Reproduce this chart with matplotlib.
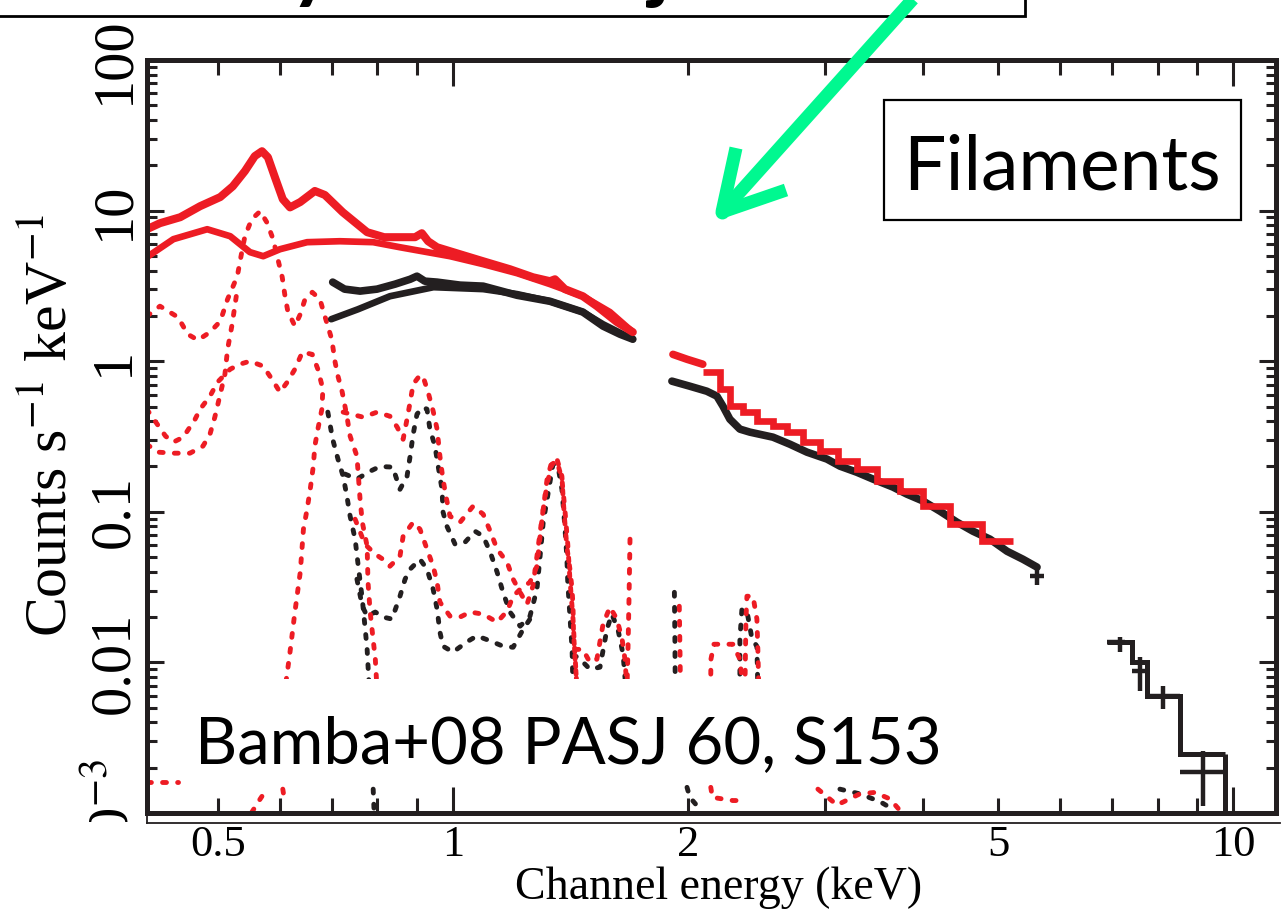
import matplotlib
matplotlib.use("Agg")
import matplotlib.pyplot as plt
from matplotlib.ticker import FixedLocator, FuncFormatter
from matplotlib.lines import Line2D
from matplotlib.patches import Rectangle
from matplotlib.transforms import Bbox

plt.rcParams['mathtext.fontset'] = 'stix'
plt.rcParams['font.family'] = ['Liberation Serif', 'DejaVu Serif']

RED = '#ED1C24'
BLK = '#231F20'
GREEN = '#00F890'

# ---------------- data (keV, counts s^-1 keV^-1) ----------------
# soft band (BI = red, FI = black)
red_soft_e = [0.405, 0.421, 0.447, 0.474, 0.503, 0.522, 0.541, 0.557, 0.569, 0.579, 0.591, 0.605,
              0.618, 0.637, 0.665, 0.685, 0.722, 0.776, 0.816, 0.855, 0.894, 0.912, 0.929, 0.954,
              1.021, 1.093, 1.183, 1.266, 1.331, 1.351, 1.391, 1.467, 1.529, 1.622, 1.700]
red_soft_c = [7.52, 8.25, 9.04, 10.7, 12.3, 14.5, 18.3, 23.0, 24.8, 22.6, 16.7, 11.9,
              10.5, 11.4, 13.5, 12.7, 9.76, 7.19, 6.66, 6.66, 6.66, 7.08, 6.26, 5.71,
              5.13, 4.61, 4.08, 3.61, 3.40, 3.50, 3.01, 2.70, 2.32, 1.82, 1.56]
red_model_e = [0.405, 0.438, 0.484, 0.518, 0.549, 0.571, 0.600, 0.650, 0.716, 0.790, 0.855,
               0.991, 1.093, 1.208, 1.331, 1.467, 1.589, 1.700]
red_model_c = [4.91, 6.46, 7.52, 6.76, 5.30, 4.98, 5.54, 6.17, 6.26, 6.17, 5.71,
               4.98, 4.41, 3.84, 3.25, 2.70, 2.12, 1.56]
black_soft_e = [0.701, 0.726, 0.760, 0.799, 0.843, 0.881, 0.899, 0.920, 0.954, 1.021, 1.093,
                1.208, 1.331, 1.467, 1.557, 1.637, 1.700]
black_soft_c = [3.35, 3.01, 2.92, 3.01, 3.25, 3.50, 3.67, 3.40, 3.35, 3.20, 3.15,
                2.74, 2.50, 2.12, 1.71, 1.51, 1.40]
black_model_e = [0.698, 0.755, 0.830, 0.944, 1.093, 1.208, 1.331, 1.467, 1.557, 1.700]
black_model_c = [1.90, 2.21, 2.70, 3.10, 3.01, 2.79, 2.50, 2.12, 1.76, 1.40]

# hard band
red_hard_e = [1.914, 1.995, 2.090]
red_hard_c = [1.11, 1.03, 0.955]
red_step_edges = [2.090, 2.198, 2.264, 2.353, 2.452, 2.571, 2.679, 2.809, 2.953, 3.115, 3.294,
                  3.495, 3.740, 4.003, 4.335, 4.765, 5.222]
red_step_c = [0.845, 0.652, 0.503, 0.459, 0.400, 0.370, 0.338, 0.290, 0.253, 0.217, 0.192,
              0.160, 0.137, 0.109, 0.0827, 0.0638]
black_hard_e = [1.908, 2.012, 2.115, 2.179, 2.218, 2.264, 2.332, 2.402, 2.571, 2.703, 2.842,
                3.015, 3.133, 3.294, 3.453, 3.663, 3.818, 4.003, 4.209, 4.426, 4.640, 4.879,
                5.131, 5.378, 5.606]
black_hard_c = [0.737, 0.682, 0.632, 0.586, 0.503, 0.412, 0.354, 0.338, 0.313, 0.281, 0.249,
                0.224, 0.201, 0.183, 0.165, 0.146, 0.131, 0.118, 0.101, 0.0853, 0.0743, 0.0658,
                0.0547, 0.0484, 0.0429]
black_end_e = [5.606]
black_end_c = [0.0374]
black_end_ex = [0.12]
black_end_cx = [0.0045]

# very hard band (black only): model steps and binned data crosses
vh_edges = [6.895, 7.42, 7.76, 8.55, 9.77]
vh_model = [0.0136, 0.0100, 0.00597, 0.00246]
vh_e = [7.165, 7.60, 8.13, 9.15]
vh_elo = [6.895, 7.42, 7.76, 8.55]
vh_ehi = [7.27, 7.76, 8.55, 9.77]
vh_c = [0.0136, 0.00874, 0.00597, 0.00187]
vh_clo = [0.0117, 0.00644, 0.00489, 0.00111]
vh_chi = [0.0147, 0.01083, 0.00695, 0.00257]

# model components (dotted)
r1_e = [0.405, 0.421, 0.444, 0.457, 0.471, 0.488, 0.503, 0.514, 0.529, 0.536, 0.541, 0.552, 0.566,
        0.577, 0.588, 0.595, 0.604, 0.609, 0.614, 0.627, 0.637, 0.646, 0.660, 0.675, 0.685, 0.699,
        0.706, 0.712, 0.721, 0.731, 0.738, 0.753, 0.760, 0.765, 0.776, 0.778, 0.783, 0.788, 0.795,
        0.799]
r1_c = [1.99, 2.32, 1.96, 1.51, 1.38, 1.56, 1.84, 2.58, 3.67, 5.30, 6.76, 8.77, 9.9,
        8.38, 6.46, 4.98, 3.61, 2.70, 2.15, 1.71, 2.05, 2.58, 2.87, 2.58, 1.99, 1.40,
        0.985, 0.795, 0.623, 0.431, 0.318, 0.234, 0.121, 0.0853, 0.0591, 0.0341, 0.0216, 0.0159,
        0.0105, 0.00664]
r2_e = [0.405, 0.428, 0.438, 0.451, 0.467, 0.474, 0.488, 0.499, 0.518, 0.533, 0.549, 0.571, 0.586,
        0.600, 0.613, 0.627, 0.641, 0.660, 0.671, 0.681, 0.679, 0.671, 0.665, 0.662, 0.656, 0.650,
        0.643, 0.637, 0.627, 0.618, 0.609]
r2_c = [0.480, 0.318, 0.290, 0.313, 0.412, 0.480, 0.586, 0.726, 0.885, 0.955, 1.0, 0.927, 0.759,
        0.623, 0.726, 0.885, 1.15, 1.11, 0.885, 0.652, 0.480, 0.354, 0.273, 0.201, 0.141, 0.104,
        0.0766, 0.0397, 0.0216, 0.0117, 0.00664]
r3_e = [0.405, 0.418, 0.438, 0.460, 0.478, 0.488, 0.495, 0.503, 0.510, 0.514, 0.521, 0.529]
r3_c = [0.281, 0.249, 0.245, 0.245, 0.273, 0.328, 0.425, 0.604, 0.820, 1.20, 1.76, 3.01]
r4_e = [0.723, 0.767, 0.799, 0.830, 0.848, 0.863, 0.873, 0.881, 0.889, 0.907, 0.915, 0.929, 0.943,
        0.954, 0.962, 0.968, 0.977, 0.991, 1.021, 1.061, 1.093, 1.116, 1.139, 1.173, 1.194, 1.219,
        1.244, 1.266, 1.281, 1.293, 1.305, 1.320, 1.339, 1.359, 1.379, 1.385, 1.391, 1.399, 1.412,
        1.421, 1.425, 1.427, 1.433, 1.442]
r4_c = [0.459, 0.425, 0.459, 0.431, 0.365, 0.303, 0.412, 0.534, 0.704, 0.807, 0.795, 0.623, 0.466,
        0.354, 0.234, 0.183, 0.135, 0.0935, 0.0853, 0.109, 0.0964, 0.0743, 0.0565, 0.0463, 0.0357,
        0.0292, 0.0243, 0.0321, 0.0507, 0.0732, 0.104, 0.165, 0.217, 0.224, 0.172, 0.116, 0.0853,
        0.0591, 0.0416, 0.0306, 0.0233, 0.0159, 0.0110, 0.00664]
r5_e = [0.749, 0.771, 0.795, 0.813, 0.830, 0.855, 0.863, 0.889, 0.907, 0.926, 0.943, 0.954, 0.962,
        0.991, 1.021, 1.052, 1.093, 1.139, 1.173, 1.194, 1.219, 1.255, 1.281, 1.293, 1.305, 1.320,
        1.339, 1.359, 1.379, 1.391, 1.403, 1.412, 1.425, 1.433, 1.442]
r5_c = [0.0893, 0.0609, 0.0523, 0.0484, 0.0435, 0.0507, 0.0689, 0.0853, 0.0766, 0.0565, 0.0435,
        0.0341, 0.0251, 0.0203, 0.0200, 0.0216, 0.0209, 0.0185, 0.0219, 0.0275, 0.0306, 0.0341,
        0.0435, 0.0689, 0.104, 0.153, 0.207, 0.217, 0.165, 0.104, 0.0609, 0.0357, 0.0194, 0.0113,
        0.00664]
r8_e = [1.686, 1.681, 1.676, 1.671]
r8_c = [0.0658, 0.0263, 0.0122, 0.00664]
r9_e = [2.139, 2.141, 2.160, 2.225, 2.284, 2.332, 2.353]
r9_c = [0.00664, 0.0105, 0.0132, 0.0132, 0.0132, 0.0105, 0.00664]
r10_e = [2.367, 2.374, 2.381, 2.424, 2.452, 2.459, 2.466]
r10_c = [0.00664, 0.0194, 0.0275, 0.0275, 0.0194, 0.0122, 0.00664]
r11_e = [1.433, 1.467, 1.498, 1.529, 1.557, 1.589, 1.622, 1.647, 1.661, 1.671]
r11_c = [0.0122, 0.0122, 0.0100, 0.0105, 0.0179, 0.0233, 0.0194, 0.0143, 0.0105, 0.00664]
r12_e = [1.950, 1.954, 1.957]
r12_c = [0.0236, 0.0120, 0.00664]
b1_e = [0.691, 0.701, 0.712, 0.723, 0.731, 0.738, 0.749, 0.756, 0.765, 0.771, 0.776, 0.781]
b1_c = [0.459, 0.303, 0.224, 0.172, 0.127, 0.0935, 0.0658, 0.0435, 0.0263, 0.0174, 0.0122, 0.00664]
b2_e = [0.727, 0.753, 0.783, 0.806, 0.837, 0.855, 0.873, 0.881, 0.889, 0.899, 0.915, 0.926, 0.934,
        0.948, 0.957, 0.968, 0.971, 0.982, 1.006, 1.036, 1.067, 1.093, 1.116, 1.139, 1.159, 1.183,
        1.219, 1.255, 1.281, 1.293, 1.305, 1.320, 1.343, 1.363, 1.379, 1.391, 1.399, 1.403, 1.412,
        1.421, 1.425]
b2_c = [0.178, 0.165, 0.186, 0.200, 0.198, 0.141, 0.172, 0.234, 0.328, 0.445, 0.495, 0.480, 0.354,
        0.273, 0.201, 0.141, 0.0993, 0.0802, 0.0609, 0.0628, 0.0743, 0.0689, 0.0539, 0.0397, 0.0292,
        0.0216, 0.0174, 0.0203, 0.0306, 0.0507, 0.0853, 0.121, 0.207, 0.201, 0.141, 0.0802, 0.0507,
        0.0341, 0.0203, 0.0122, 0.00664]
b3_e = [0.753, 0.765, 0.776, 0.795, 0.813, 0.835, 0.855, 0.868, 0.881, 0.907, 0.926, 0.943, 0.954,
        0.962, 0.971, 1.000, 1.042, 1.073, 1.116, 1.159, 1.194, 1.230, 1.255]
b3_c = [0.0357, 0.0236, 0.0203, 0.0216, 0.0200, 0.0194, 0.0275, 0.0357, 0.0416, 0.0484, 0.0416,
        0.0306, 0.0226, 0.0159, 0.0128, 0.0117, 0.0137, 0.0150, 0.0139, 0.0128, 0.0126, 0.0166,
        0.0194]
b5_e = [1.922, 1.925, 1.927]
b5_c = [0.0292, 0.0140, 0.00664]
b6_e = [2.332, 2.332, 2.346, 2.381, 2.417, 2.452, 2.459]
b6_c = [0.00664, 0.0143, 0.0226, 0.0219, 0.0143, 0.0128, 0.00664]
b7_e = [1.425, 1.455, 1.498, 1.543, 1.575, 1.598, 1.627, 1.652, 1.666]
b7_c = [0.0113, 0.0105, 0.00901, 0.00929, 0.0166, 0.0209, 0.0166, 0.0113, 0.00664]
# fragments visible just above the bottom axis
rb1_e = [0.405, 0.444]
rb1_c = [0.00160, 0.00160]
rb2_e = [0.552, 0.566, 0.579]
rb2_c = [0.00101, 0.00124, 0.00148]
rb3_e = [0.605, 0.609]
rb3_c = [0.00144, 0.00115]
rb4_e = [2.140, 2.150, 2.284, 2.332]
rb4_c = [0.00148, 0.00127, 0.00121, 0.00121]
rb5_e = [2.936, 3.106, 3.323, 3.474, 3.631, 3.740]
rb5_c = [0.00144, 0.00113, 0.00134, 0.00137, 0.00124, 0.00104]
bb1_e = [0.790, 0.792]
bb1_c = [0.00144, 0.00104]
bb2_e = [1.995, 2.012, 2.045, 2.072]
bb2_c = [0.00148, 0.00127, 0.00115, 0.00104]
bb3_e = [3.133, 3.323, 3.526, 3.685]
bb3_c = [0.00144, 0.00134, 0.00119, 0.00104]

# ticks
x_major = [1, 10]
x_minor = [0.5, 0.6, 0.7, 0.8, 0.9, 2, 3, 4, 5, 6, 7, 8, 9]
x_labels = {0.5: "0.5", 1: "1", 2: "2", 5: "5", 10: "10"}
y_major = [1e-3, 1e-2, 0.1, 1, 10, 100]
y_major_labels = ["10$^{-3}$", "0.01", "0.1", "1", "10", "100"]
y_minor = [m * d for d in [1e-3, 1e-2, 0.1, 1, 10] for m in range(2, 10)]

# ---------------- figure ----------------
W, H = 1285, 916
fig = plt.figure(figsize=(W / 100, H / 100), dpi=100)
fig.patch.set_facecolor('white')
ax = fig.add_axes([147 / W, 1 - 813 / H, (1276 - 147) / W, (813 - 60) / H])
ax.set_xscale('log')
ax.set_yscale('log')
ax.set_xlim(0.4052, 11.35)
ax.set_ylim(1e-3, 100)

dot = dict(linestyle=(0, (0.8, 2.3)), lw=3.5, dash_capstyle='round')
for e, c in [(b1_e, b1_c), (b2_e, b2_c), (b3_e, b3_c), (b5_e, b5_c), (b6_e, b6_c), (b7_e, b7_c),
             (bb1_e, bb1_c), (bb2_e, bb2_c), (bb3_e, bb3_c)]:
    ax.plot(e, c, color=BLK, zorder=1.8, **dot)
for e, c in [(r1_e, r1_c), (r2_e, r2_c), (r3_e, r3_c), (r4_e, r4_c), (r5_e, r5_c), (r8_e, r8_c),
             (r9_e, r9_c), (r10_e, r10_c), (r11_e, r11_c), (r12_e, r12_c), (rb1_e, rb1_c),
             (rb2_e, rb2_c), (rb3_e, rb3_c), (rb4_e, rb4_c), (rb5_e, rb5_c)]:
    ax.plot(e, c, color=RED, zorder=1.9, **dot)

# black spectra
ax.plot(black_model_e, black_model_c, color=BLK, lw=4.8, solid_capstyle='round', zorder=2)
ax.plot(black_soft_e, black_soft_c, color=BLK, lw=5.5, solid_capstyle='round', zorder=2)
ax.plot(black_hard_e, black_hard_c, color=BLK, lw=5.5, solid_capstyle='round', zorder=2)
ax.errorbar(black_end_e, black_end_c, xerr=black_end_ex, yerr=black_end_cx, fmt='none',
            ecolor=BLK, elinewidth=3.2, capsize=0, zorder=2)
ax.stairs(vh_model, vh_edges, baseline=None, color=BLK, lw=3.6, zorder=2)
ax.vlines(vh_edges[-1], ax.get_ylim()[0], vh_model[-1], color=BLK, lw=3.6, zorder=2)
ax.errorbar(vh_e, vh_c,
            xerr=[[m - l for m, l in zip(vh_e, vh_elo)], [h - m for m, h in zip(vh_e, vh_ehi)]],
            yerr=[[m - l for m, l in zip(vh_c, vh_clo)], [h - m for m, h in zip(vh_c, vh_chi)]],
            fmt='none', ecolor=BLK, elinewidth=3.2, capsize=0, zorder=2)

# red spectra
ax.plot(red_model_e, red_model_c, color=RED, lw=4.8, solid_capstyle='round', zorder=2.2)
ax.plot(red_soft_e, red_soft_c, color=RED, lw=5.8, solid_capstyle='round', zorder=2.2)
ax.plot(red_hard_e, red_hard_c, color=RED, lw=5.5, solid_capstyle='round', zorder=2.2)
ax.stairs(red_step_c, red_step_edges, baseline=None, color=RED, lw=4.8, zorder=2.2)

# ---------------- axes styling ----------------
for s in ax.spines.values():
    s.set_linewidth(3.6)
    s.set_color(BLK)

ax.xaxis.set_major_locator(FixedLocator(x_major))
ax.xaxis.set_minor_locator(FixedLocator(x_minor))
ax.xaxis.set_major_formatter(FuncFormatter(lambda v, p: x_labels.get(round(v, 3), "")))
ax.xaxis.set_minor_formatter(FuncFormatter(lambda v, p: x_labels.get(round(v, 3), "")))
ax.yaxis.set_major_locator(FixedLocator(y_major))
ax.yaxis.set_minor_locator(FixedLocator(y_minor))
ax.yaxis.set_major_formatter(FuncFormatter(
    lambda v, p: y_major_labels[p] if p is not None and p < len(y_major_labels) else ""))
ax.yaxis.set_minor_formatter(FuncFormatter(lambda v, p: ""))

ax.tick_params(axis='both', which='both', direction='in', top=True, right=True,
               color=BLK, width=2.2)
ax.tick_params(axis='x', which='major', length=19, pad=9, labelsize=32)
ax.tick_params(axis='x', which='minor', length=10.5, pad=9, labelsize=32)
ax.tick_params(axis='y', which='major', length=12.5, pad=5, labelsize=42)
ax.tick_params(axis='y', which='minor', length=7)
for lab in ax.get_yticklabels():
    lab.set_rotation(90)
    lab.set_va('center')

ax.set_xlabel("Channel energy (keV)", fontsize=33, va='center')
ax.xaxis.set_label_coords(0.506, -0.0996)
ax.set_ylabel("Counts s$^{-1}$ keV$^{-1}$", fontsize=43, va='center')
ax.yaxis.set_label_coords(-0.085, 0.515)

# annotation boxes
ax.add_patch(Rectangle((0.6525, 0.7875), 0.3165, 0.1594, transform=ax.transAxes,
                       facecolor='white', edgecolor='black', lw=1.6, zorder=5))
ax.text(0.8103, 0.8274, "Filaments", transform=ax.transAxes, ha='center', va='baseline',
        fontsize=54, family=['Lato', 'DejaVu Sans'], zorder=6)
ax.add_patch(Rectangle((0.0337, 0.0372), 0.687, 0.1408, transform=ax.transAxes,
                       facecolor='white', edgecolor='none', zorder=4))
ax.text(0.3732, 0.0664, "Bamba+08 PASJ 60, S153", transform=ax.transAxes, ha='center',
        va='baseline', fontsize=47, family=['Lato', 'DejaVu Sans'], zorder=6)

# thin frame line under the axis
fig.add_artist(Line2D([147 / W, 1280 / W], [1 - 823 / H, 1 - 823 / H], color=BLK, lw=1.3))
fig.add_artist(Line2D([147 / W, 147 / W], [1 - 813 / H, 1 - 823 / H], color=BLK, lw=1.3))

# top title box (cut off by the frame, only descenders visible as in the reference)
fig.add_artist(Rectangle((-10 / W, 1 - 16 / H), 1035 / W, 80 / H, transform=fig.transFigure,
                         facecolor='white', edgecolor='black', lw=2.0, zorder=10, clip_on=False))
fig.text(312 / W, 1 + 7 / H, "y", fontsize=60, fontweight='bold', family=['Lato', 'DejaVu Sans'],
         ha='center', va='baseline', zorder=11)
fig.text(660 / W, 1 + 7 / H, "j", fontsize=60, fontweight='bold', family=['Lato', 'DejaVu Sans'],
         ha='center', va='baseline', zorder=11)

# green arrow
def fpx(px, py):
    return px / W, 1 - py / H

tip = fpx(722, 212)
for start in [fpx(930, -20), fpx(736, 148), fpx(786, 190)]:
    fig.add_artist(Line2D([start[0], tip[0]], [start[1], tip[1]], color=GREEN, lw=9.4,
                          solid_capstyle='butt', zorder=12))
fig.add_artist(Line2D([tip[0]], [tip[1]], marker='o', ms=9, color=GREEN, zorder=12))

# clip the 10^-3 label at the lower frame line
fig.canvas.draw()
lab0 = ax.yaxis.get_major_ticks()[0].label1
lab0.set_clip_box(Bbox.from_extents(0, H - 822, W, H))
lab0.set_clip_on(True)

fig.savefig("out.png", dpi=100)
